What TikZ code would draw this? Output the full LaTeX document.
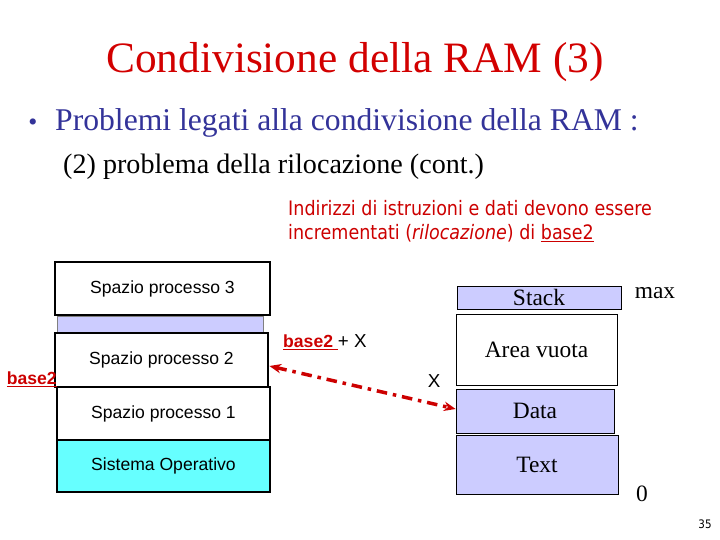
\documentclass[tikz,border=0pt]{standalone}
\usepackage{fontspec}
\setmainfont{Liberation Serif}
\setsansfont{Liberation Sans}
\newfontfamily\tahoma[FakeStretch=0.88]{DejaVu Sans}
\usepackage{tikz}
\usetikzlibrary{positioning, arrows.meta}
\definecolor{cTitle}{RGB}{210,0,0}
\definecolor{cRed}{RGB}{204,0,0}
\definecolor{cBlue}{RGB}{51,51,153}
\definecolor{cLav}{RGB}{204,204,255}
\definecolor{cOS}{RGB}{102,255,255}

\begin{document}
\begin{tikzpicture}[x=0.03cm, y=-0.03cm, >=Stealth,
   proc/.style={draw, line width=2.4pt, inner sep=0pt, font=\sffamily\fontsize{15}{18}\selectfont},
   mem/.style={draw, line width=0.6pt, inner sep=0pt, fill=cLav, font=\fontsize{20}{24}\selectfont},
   note/.style={inner sep=0pt, font=\sffamily\fontsize{16}{18}\selectfont}]
   \useasboundingbox (0,0) rectangle (720,540);

   % Title and text lines
   \node[cTitle, font=\fontsize{37}{44}\selectfont] (title) at (355,62) {Condivisione della RAM (3)};
   \node[cBlue, font=\fontsize{22}{26}\selectfont] (dot) at (33,125) {\textbullet};
   \node[cBlue, anchor=west, inner sep=0pt, font=\fontsize{27}{32}\selectfont] (pb) at (55,123)
      {Problemi legati alla condivisione della RAM :};
   \node[anchor=west, inner sep=0pt, font=\fontsize{24}{28}\selectfont] (sub) at (63,167)
      {(2) problema della rilocazione (cont.)};
   \node[cRed, anchor=north west, inner sep=0pt, align=left, font=\tahoma\fontsize{17}{20.4}\selectfont] (rel) at (288,200)
      {Indirizzi di istruzioni e dati devono essere\\ incrementati (\textit{rilocazione}) di \underline{base2}};

   % Memory of the system
   \node[proc, fill=white, minimum width=6.45cm, minimum height=1.59cm] (sp3) at (162.5,288.5) {Spazio processo 3};
   \node[draw=gray, fill=cLav, minimum width=6.18cm, minimum height=0.48cm, inner sep=0pt] (gap) at (160,324) {};
   \node[proc, fill=white, minimum width=6.39cm, minimum height=1.62cm] (sp2) at (161.5,360) {Spazio processo 2};
   \node[proc, fill=white, minimum width=6.39cm, minimum height=1.59cm] (sp1) at (163.5,413.5) {Spazio processo 1};
   \node[proc, fill=cOS, minimum width=6.39cm, minimum height=1.56cm] (so) at (163.5,466) {Sistema Operativo};
   \node[note, cRed, font=\sffamily\bfseries\fontsize{15}{18}\selectfont, anchor=east] (b2) at (57,379) {\underline{base2}};

   % Memory of process 2
   \node[mem, minimum width=4.92cm, minimum height=0.69cm] (stack) at (539,297.5) {Stack};
   \node[mem, fill=white, minimum width=4.83cm, minimum height=2.13cm] (area) at (536.5,349.5) {Area vuota};
   \node[mem, minimum width=4.74cm, minimum height=1.32cm] (data) at (535,411) {Data};
   \node[mem, minimum width=4.86cm, minimum height=1.77cm] (text) at (537,464.5) {Text};
   \node[inner sep=0pt, font=\fontsize{20}{24}\selectfont] (max) at (655,293) {max};
   \node[inner sep=0pt, font=\fontsize{20}{24}\selectfont] (zero) at (642,494) {0};
   \node[note, anchor=west] (bx) at (283,342) {\textcolor{cRed}{\bfseries\fontsize{15}{18}\selectfont\underline{base2\ }}+ X};
   \node[note] (x) at (434,381) {X};
   \node[inner sep=0pt, font=\tahoma\fontsize{10}{12}\selectfont] (page) at (705,524) {35};

   % Edges
   \draw[<->, cRed, line width=3pt, dash pattern=on 9pt off 5pt on 3pt off 5pt,
      arrows={Stealth[length=10pt, width=8pt]-Stealth[length=10pt, width=8pt]}]
      ([yshift=-0.18cm]sp2.east) -- ([yshift=0.06cm]data.west);
\end{tikzpicture}
\end{document}
